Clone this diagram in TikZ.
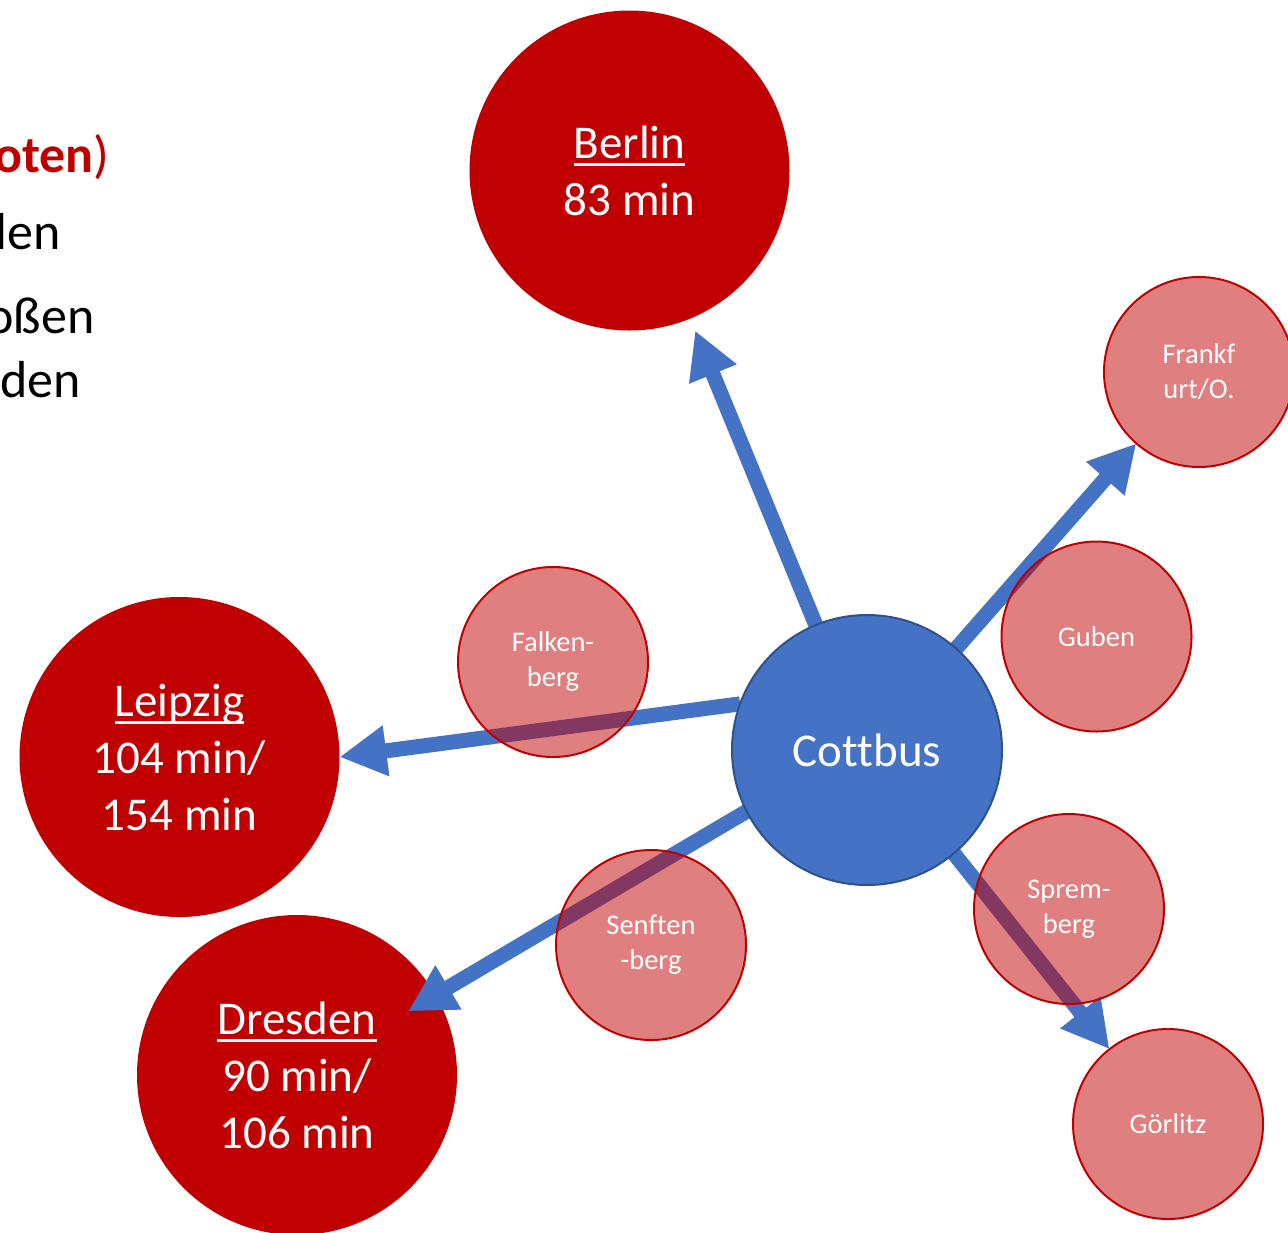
\documentclass[tikz,border=0pt]{standalone}
\usepackage{fontspec}
\setmainfont{Carlito}[Ligatures={NoCommon}]
\usetikzlibrary{arrows.meta}
\definecolor{dred}{HTML}{C00000}
\definecolor{cblue}{HTML}{4472C4}
\definecolor{cblueb}{HTML}{2F528F}
\newcommand\myul[1]{\setbox0\hbox{#1}\rlap{\rule[-4pt]{\wd0}{1.6pt}}\box0}
\pgfdeclarelayer{back}
\pgfdeclarelayer{mid}
\pgfsetlayers{back,mid,main}
\begin{document}
\begin{tikzpicture}[x=0.5pt,y=-0.5pt,
  bigcity/.style={circle, fill=dred, inner sep=0pt, outer sep=0pt, minimum size=160pt,
    text=white, align=center, font=\fontsize{23.5}{28.5}\selectfont},
  town/.style={circle, draw=dred, line width=1pt, fill=dred, fill opacity=0.5,
    draw opacity=1, text opacity=1, inner sep=0pt, outer sep=0pt, minimum size=95pt,
    text=white, align=center, font=\fontsize{14.25}{17.5}\selectfont},
  hub/.style={circle, fill=cblue, draw=cblueb, line width=1pt, minimum size=135pt,
    inner sep=0pt, outer sep=0pt, text=white, font=\fontsize{23.5}{28.5}\selectfont},
  link/.style={draw=cblue, line width=7.5pt, -{Triangle[length=23.5pt,width=24pt]}},
  lefttext/.style={anchor=base east, inner sep=0pt, font=\fontsize{26}{31}\selectfont}]
\useasboundingbox (0,0) rectangle (1288,1232);
\clip (0,0) rectangle (1288,1232);

\node[lefttext, text=dred] (t1) at (110,172) {\textbf{oten})};
\node[lefttext] (t2) at (61,249) {len};
\node[lefttext] (t3) at (95,333) {oßen};
\node[lefttext] (t4) at (81,397) {den};

\begin{pgfonlayer}{back}
\node[bigcity] (berlin) at (629.5,170.5) {\myul{Berlin}\\83 min};
\node[bigcity] (leipzig) at (179.5,757) {\myul{Leipzig}\\104 min/\\154 min};
\node[bigcity] (dresden) at (297,1075) {\myul{Dresden}\\90 min/\\106 min};
\end{pgfonlayer}

\node[hub] (cottbus) at (867,750) {Cottbus};
\node[town] (frankfurt) at (1199,372) {Frankf\\urt/O.};
\node[town] (guben) at (1096.5,636.5) {Guben};
\node[town] (falkenberg) at (553,662) {Falken-\\berg};
\node[town] (spremberg) at (1069,909) {Sprem-\\berg};
\node[town] (senftenberg) at (651,945) {Senften\\-berg};
\node[town] (goerlitz) at (1168,1124) {Görlitz};

\begin{pgfonlayer}{mid}
\draw[link, shorten >=6.5pt] (cottbus) -- (berlin);
\draw[link] (cottbus) -- (frankfurt);
\draw[link] (cottbus.160) -- (leipzig.east);
\draw[link, shorten >=-16pt] (cottbus.207.5) -- (dresden.30);
\draw[link] (cottbus.-50) -- (goerlitz.128);
\end{pgfonlayer}
\end{tikzpicture}
\end{document}
